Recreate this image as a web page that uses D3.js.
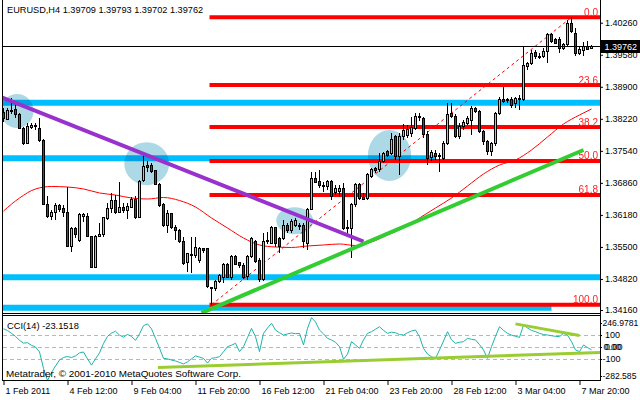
<!DOCTYPE html>
<html><head><meta charset="utf-8">
<script src="https://cdn.jsdelivr.net/npm/d3@7"></script>
<style>
html,body{margin:0;padding:0;background:#fff;}
svg{display:block;font-family:"Liberation Sans",Arial,sans-serif;}
</style></head><body>
<svg id="c" width="640" height="400"></svg>
<script>
// ---------------- DATA ----------------
const chartTitle = "EURUSD,H4  1.39709 1.39793 1.39702 1.39762";
const cciTitle = "CCI(14) -23.1518";
const copyright = "Metatrader, \u00A9 2001-2010 MetaQuotes Software Corp.";

const open = [
1.38364,1.38209,1.38392,1.38407,1.38301,1.38018,1.37700,1.38039,1.38088,1.38018,
1.37755,1.36411,1.36142,1.36241,1.36369,1.36305,1.36235,1.35505,1.35887,1.35632,
1.36142,1.36142,1.35711,1.35059,1.35717,1.35768,1.36108,1.36320,1.36475,1.36235,
1.36341,1.36269,1.36341,1.36496,1.36120,1.36906,1.37233,1.37233,1.37118,1.36829,
1.36390,1.35965,1.36199,1.35916,1.35859,1.35611,1.35165,1.35343,1.35314,1.35222,
1.35471,1.35471,1.34634,1.34621,1.34762,1.34855,1.35137,1.34855,1.35292,1.35165,
1.35116,1.34868,1.35292,1.35611,1.35222,1.34798,1.35632,1.35577,1.35916,1.35683,
1.35683,1.35965,1.35859,1.35965,1.35944,1.35965,1.35577,1.36299,1.36957,1.36884,
1.36814,1.36778,1.36899,1.36651,1.36672,1.36744,1.35916,1.35895,1.36390,1.36829,
1.36553,1.36532,1.37005,1.37169,1.37133,1.37309,1.37521,1.37487,1.37834,1.37409,
1.37834,1.37855,1.37918,1.38018,1.38264,1.38231,1.37876,1.37388,1.37487,1.37451,
1.37381,1.37700,1.38322,1.38264,1.37840,1.38067,1.38124,1.38194,1.38428,1.38371,
1.37946,1.37734,1.37521,1.37685,1.38322,1.38619,1.38634,1.38634,1.38549,1.38655,
1.38619,1.39326,1.39398,1.39623,1.39553,1.39538,1.39644,1.39999,1.39893,1.39908,
1.39717,1.39787,1.40247,1.40035,1.39596,1.39666,1.39751,1.39709];
const high = [
1.38449,1.38443,1.38655,1.38549,1.38337,1.38052,1.38124,1.38124,1.38124,1.38231,
1.37785,1.36581,1.36284,1.36426,1.36411,1.36390,1.36778,1.35929,1.35929,1.36214,
1.36226,1.36214,1.35717,1.35753,1.36001,1.36142,1.36426,1.36638,1.36602,1.36884,
1.36426,1.36426,1.36566,1.36581,1.36921,1.37430,1.37330,1.37275,1.37133,1.36850,
1.36426,1.36284,1.36214,1.35965,1.35874,1.35717,1.35364,1.35717,1.35717,1.35505,
1.35483,1.35483,1.34655,1.34798,1.34925,1.35152,1.35159,1.35328,1.35328,1.35186,
1.35159,1.35328,1.35711,1.35647,1.35265,1.35795,1.35823,1.35944,1.35929,1.35717,
1.36071,1.36001,1.36086,1.36108,1.36001,1.36001,1.36320,1.37097,1.37097,1.37133,
1.36884,1.36921,1.36921,1.36814,1.36814,1.36850,1.36071,1.36426,1.36850,1.36850,
1.36638,1.37063,1.37169,1.37203,1.37487,1.37521,1.37558,1.37918,1.37876,1.37918,
1.38109,1.38088,1.38258,1.38343,1.38343,1.38258,1.37961,1.37558,1.37558,1.37494,
1.37749,1.38555,1.38555,1.38322,1.38131,1.38194,1.38279,1.38492,1.38470,1.38407,
1.37982,1.37770,1.37727,1.38364,1.38683,1.38889,1.38661,1.38689,1.38689,1.38725,
1.39751,1.39432,1.39681,1.39681,1.39623,1.39717,1.40035,1.40048,1.39929,1.39950,
1.39823,1.40317,1.40375,1.40141,1.39751,1.39857,1.39878,1.39793];
const low = [
1.38152,1.38194,1.38322,1.38231,1.37997,1.37664,1.37685,1.37997,1.37982,1.37734,
1.36390,1.36108,1.36071,1.36071,1.36248,1.36142,1.35492,1.35398,1.35683,1.35611,
1.36035,1.35704,1.35052,1.35052,1.35704,1.35717,1.36071,1.36214,1.36199,1.36214,
1.36226,1.36086,1.36320,1.36086,1.36108,1.36884,1.37097,1.37063,1.36814,1.36354,
1.35929,1.35789,1.35874,1.35647,1.35577,1.35116,1.34974,1.34953,1.35258,1.35152,
1.35377,1.34621,1.34273,1.34570,1.34728,1.34728,1.34840,1.34798,1.35116,1.35052,
1.34819,1.34798,1.35265,1.35159,1.34762,1.34783,1.35562,1.35562,1.35505,1.35364,
1.35647,1.35789,1.35789,1.35929,1.35859,1.35471,1.35435,1.36284,1.36850,1.36744,
1.36672,1.36708,1.36496,1.36602,1.36566,1.35859,1.35717,1.35265,1.36354,1.36496,
1.36496,1.36496,1.36957,1.37063,1.37097,1.37275,1.37409,1.37451,1.37345,1.37027,
1.37770,1.37812,1.37834,1.37982,1.38173,1.37812,1.37239,1.37324,1.37345,1.37097,
1.37345,1.37664,1.38237,1.37812,1.37791,1.37982,1.38088,1.37876,1.38343,1.37918,
1.37664,1.37451,1.37430,1.37642,1.38301,1.38555,1.38555,1.38443,1.38443,1.38407,
1.38598,1.39256,1.39362,1.39483,1.39483,1.39504,1.39398,1.39823,1.39802,1.39610,
1.39681,1.39751,1.40035,1.39553,1.39574,1.39553,1.39681,1.39702];
const close = [
1.38216,1.38392,1.38386,1.38301,1.38018,1.37700,1.38052,1.38088,1.38052,1.37755,
1.36411,1.36142,1.36235,1.36375,1.36284,1.36235,1.35505,1.35887,1.35774,1.36192,
1.36192,1.35717,1.35059,1.35717,1.35774,1.36114,1.36326,1.36475,1.36226,1.36333,
1.36269,1.36354,1.36496,1.36120,1.36884,1.37203,1.37190,1.37097,1.36829,1.36369,
1.35965,1.36199,1.35916,1.35859,1.35611,1.35152,1.35350,1.35314,1.35483,1.35456,
1.35420,1.34655,1.34607,1.34762,1.34883,1.35137,1.34855,1.35292,1.35137,1.35116,
1.34855,1.35307,1.35683,1.35186,1.34798,1.35611,1.35611,1.35916,1.35562,1.35505,
1.35965,1.35859,1.36050,1.36071,1.35965,1.35611,1.36299,1.36957,1.36872,1.36814,
1.36778,1.36899,1.36566,1.36744,1.36744,1.35895,1.35887,1.36390,1.36829,1.36532,
1.36517,1.37027,1.37148,1.37118,1.37309,1.37487,1.37451,1.37770,1.37409,1.37834,
1.37982,1.38003,1.38025,1.38264,1.38237,1.37876,1.37381,1.37494,1.37415,1.37409,
1.37700,1.38301,1.38279,1.37840,1.38067,1.38137,1.38231,1.38428,1.38371,1.37946,
1.37734,1.37521,1.37685,1.38322,1.38634,1.38583,1.38604,1.38492,1.38655,1.38619,
1.39362,1.39398,1.39610,1.39538,1.39526,1.39644,1.39999,1.39857,1.39823,1.39717,
1.39787,1.40247,1.40069,1.39596,1.39695,1.39751,1.39691,1.39762];

// moving average (thin red line), read at sampled bars
const maBars = [0,4,8,12,16,20,24,28,32,36,40,44,48,52,56,60,64,68,72,76,80,84,88,92,96,100,104,108,112,116,120,124,128,132,136,140,144,147];
const maValues = [1.36262,1.36538,1.36730,1.36783,1.36772,1.36730,1.36645,1.36602,1.36538,1.36517,1.36549,1.36485,1.36347,1.36114,1.35902,1.35689,1.35541,1.35498,1.35488,1.35520,1.35541,1.35562,1.35530,1.35605,1.35753,1.35902,1.36114,1.36326,1.36538,1.36793,1.37048,1.37239,1.37345,1.37558,1.37834,1.38109,1.38301,1.38428];

// CCI(14) per bar
const cciValues = [
153,139,115,90,56,33,36,14,0,-42,
-180,-282.585,-215,-160,-110,-88,-80,-89,-75,-50,
-42,-100,-153,-100,-50,30,90,117,133,100,
83,106,89,56,110,180,195,153,73,-10,
-96,-100,-110,-118,-130,-143,-125,-100,-75,-85,
-97,-135,-96,-90,-82,-40,3,15,31,-39,
3,80,157,87,-39,115,160,200,143,120,
101,110,118,112,115,17,157,246.9781,211,143,
110,73,59,40,3,-104,-60,45,17,-11,
60,115,129,150,171,140,115,125,120,105,
101,120,135,143,87,-11,-60,-82,-96,-25,
50,129,60,31,40,45,73,65,59,20,
-25,-96,3,90,171,140,115,100,90,81,
185,160,140,129,115,105,101,95,90,87,
115,100,45,-25,-39,17,-5,-23.1518];

const priceTicks = [1.40260,1.39580,1.38900,1.38220,1.37540,1.36860,1.36180,1.35500,1.34820,1.34160];
const cciTickValues = [246.9781,100,0,-100,-282.585];
const cciTickLabels = ["246.9781","100","0.00","-100","-282.585"];
const cciLevels = [100,0,-100];
const timeBars = [0,16,32,48,64,80,96,112,128,144];
const timeLabels = ["1 Feb 2011","4 Feb 12:00","9 Feb 04:00","11 Feb 20:00","16 Feb 12:00","21 Feb 04:00","23 Feb 20:00","28 Feb 12:00","3 Mar 04:00","7 Mar 20:00"];

// Fibonacci retracement
const fibLevels = [0,23.6,38.2,50,61.8,100];
const fibLowBar = 52, fibHighBar = 142;
const fibLow = 1.34273, fibHigh = 1.40375;

// horizontal support/resistance lines
const hLinePrices = [1.38562,1.37381,1.34855,1.34210];
const hLineEndBars = [null,108,null,137];

// ellipses (center bar, center price, half width in bars, half height in price)
const ellBars = [3.4,35.8,96.5,72.8];
const ellPrices = [1.38386,1.37267,1.37441,1.36057];
const ellHalfBars = [4.1,5.6,5.4,4.6];
const ellHalfPrices = [0.0036,0.00456,0.00541,0.00287];

// trend lines
const purpleBars = [-0.5,90], purplePrices = [1.38678,1.35615];
const greenBars = [49.5,145], greenPrices = [1.34097,1.37558];
const cciUpBars = [38.6,149.5], cciUpValues = [-173,-46];
const cciDownBars = [128,144], cciDownValues = [195,97];

// ---------------- DRAW ----------------
const svg = d3.select("#c");
const n = close.length;
const x = d3.scaleLinear().domain([0, n-1]).range([3.5, 3.5 + 4*(n-1)]);
const y = d3.scaleLinear().domain([1.34097, 1.40742]).range([313, 0]);
const yc = d3.scaleLinear().domain([-282.585, 246.9781]).range([380.5, 317.7]);
const R = 600; // right edge of plot area

const defs = svg.append("defs");
defs.append("clipPath").attr("id","cm").append("rect").attr("x",3).attr("y",0).attr("width",R-3).attr("height",313);
defs.append("clipPath").attr("id","cc").append("rect").attr("x",3).attr("y",316).attr("width",R-3).attr("height",64.5);

const main = svg.append("g").attr("clip-path","url(#cm)");

// blue horizontal lines
main.selectAll(".hl").data(hLinePrices).join("line")
  .attr("x1",3).attr("x2",(d,i)=> hLineEndBars[i]==null ? R : x(hLineEndBars[i]))
  .attr("y1",d=>y(d)).attr("y2",d=>y(d))
  .attr("stroke","#00BFFF").attr("stroke-width",6);

// ellipses
main.selectAll(".el").data(ellBars).join("ellipse")
  .attr("cx",d=>x(d)).attr("cy",(d,i)=>y(ellPrices[i]))
  .attr("rx",(d,i)=>x(d+ellHalfBars[i])-x(d))
  .attr("ry",(d,i)=>y(ellPrices[i]-ellHalfPrices[i])-y(ellPrices[i]))
  .attr("fill","#ADD8E6").style("mix-blend-mode","multiply");

// fib lines
const fibPrice = l => fibHigh - l/100*(fibHigh-fibLow);
main.selectAll(".fl").data(fibLevels).join("line")
  .attr("x1",x(fibLowBar)-2).attr("x2",R)
  .attr("y1",d=>y(fibPrice(d))).attr("y2",d=>y(fibPrice(d)))
  .attr("stroke","#FF0000").attr("stroke-width",4);
main.selectAll(".ft").data(fibLevels).join("text")
  .attr("x",598).attr("y",d=>y(fibPrice(d))-1.5)
  .attr("text-anchor","end").attr("font-size",10).attr("fill","#FF2020")
  .text(d=>d.toFixed(1));

// fib dashed trend
main.append("line")
  .attr("x1",x(fibLowBar)).attr("y1",y(fibLow)).attr("x2",x(fibHighBar)).attr("y2",y(fibHigh))
  .attr("stroke","#FF0000").attr("stroke-width",1).attr("stroke-dasharray","3,3");

// moving average
main.append("path")
  .datum(maBars.map((b,i)=>[b,maValues[i]]))
  .attr("d", d3.line().x(d=>x(d[0])).y(d=>y(d[1])).curve(d3.curveMonotoneX))
  .attr("fill","none").attr("stroke","#FF0000").attr("stroke-width",1);

// candles
const idx = d3.range(n);
main.selectAll(".wk").data(idx).join("line")
  .attr("x1",i=>x(i)).attr("x2",i=>x(i))
  .attr("y1",i=>y(high[i])).attr("y2",i=>y(low[i]))
  .attr("stroke","#000").attr("stroke-width",1).attr("shape-rendering","crispEdges");
main.selectAll(".bd").data(idx).join("rect")
  .attr("x",i=>x(i)-1).attr("width",2)
  .attr("y",i=>Math.min(y(open[i]),y(close[i])))
  .attr("height",i=>Math.max(1,Math.abs(y(open[i])-y(close[i]))))
  .attr("fill",i=> close[i]>=open[i] ? "#A8E030" : "#FF0000")
  .attr("stroke","#000").attr("stroke-width",1).attr("shape-rendering","crispEdges");

// trend lines
main.append("line")
  .attr("x1",x(purpleBars[0])).attr("y1",y(purplePrices[0]))
  .attr("x2",x(purpleBars[1])).attr("y2",y(purplePrices[1]))
  .attr("stroke","#9932CC").attr("stroke-width",4);
main.append("line")
  .attr("x1",x(greenBars[0])).attr("y1",y(greenPrices[0]))
  .attr("x2",x(greenBars[1])).attr("y2",y(greenPrices[1]))
  .attr("stroke","#32CD32").attr("stroke-width",4);

// current price line
const lastY = Math.round(y(close[n-1]))+0.5;
main.append("line").attr("x1",3).attr("x2",R).attr("y1",lastY).attr("y2",lastY)
  .attr("stroke","#000").attr("stroke-width",1);

// title
svg.append("text").attr("x",7).attr("y",13).attr("font-size",9.2).attr("fill","#000").text(chartTitle);

// price axis
const pa = svg.append("g").attr("transform",`translate(${R},0)`)
  .call(d3.axisRight(y).tickValues(priceTicks).tickFormat(d3.format(".5f")).tickSize(3).tickPadding(2));
pa.select(".domain").remove();
pa.selectAll("text").attr("font-family","Liberation Sans, Arial, sans-serif").attr("font-size",9).attr("fill","#000");
pa.selectAll("line").attr("stroke","#000");

// current price box
svg.append("rect").attr("x",601).attr("y",lastY-6.5).attr("width",39).attr("height",13).attr("fill","#000");
svg.append("text").attr("x",604.5).attr("y",lastY).attr("dy","0.35em").attr("font-size",9)
  .attr("fill","#fff").text(close[n-1].toFixed(5));

// ---------- CCI panel ----------
const cp = svg.append("g").attr("clip-path","url(#cc)");
cp.selectAll(".lv").data(cciLevels).join("line")
  .attr("x1",3).attr("x2",R).attr("y1",d=>Math.round(yc(d))+0.5).attr("y2",d=>Math.round(yc(d))+0.5)
  .attr("stroke","#B8B8B8").attr("stroke-dasharray","4,3");
cp.append("path").datum(cciValues)
  .attr("d", d3.line().x((d,i)=>x(i)).y(d=>yc(d)))
  .attr("fill","none").attr("stroke","#20B2AA").attr("stroke-width",1);
cp.append("line")
  .attr("x1",x(cciUpBars[0])).attr("y1",yc(cciUpValues[0])).attr("x2",x(cciUpBars[1])).attr("y2",yc(cciUpValues[1]))
  .attr("stroke","#9ACD32").attr("stroke-width",3);
cp.append("line")
  .attr("x1",x(cciDownBars[0])).attr("y1",yc(cciDownValues[0])).attr("x2",x(cciDownBars[1])).attr("y2",yc(cciDownValues[1]))
  .attr("stroke","#9ACD32").attr("stroke-width",3);

svg.append("text").attr("x",7).attr("y",329).attr("font-size",9.3).attr("fill","#000").text(cciTitle);
svg.append("text").attr("x",6).attr("y",376.5).attr("font-size",9.9).attr("fill","#000").text(copyright);

// CCI axis labels
const cciLabelY = v => Math.max(323, Math.min(376, yc(v)));
const ca = svg.append("g");
ca.selectAll("line").data(cciTickValues).join("line")
  .attr("x1",R).attr("x2",R+2).attr("y1",d=>Math.round(cciLabelY(d))+0.5).attr("y2",d=>Math.round(cciLabelY(d))+0.5)
  .attr("stroke","#000");
ca.selectAll("text").data(cciTickValues).join("text")
  .attr("x",(d,i)=> (d<0 || cciTickLabels[i].length>6) ? 602.5 : 605).attr("y",d=>cciLabelY(d)).attr("dy","0.35em")
  .attr("font-size",(d,i)=> cciTickLabels[i].length>6 ? 8.6 : 9).attr("fill","#000").text((d,i)=>cciTickLabels[i]);
ca.append("text").attr("x",603.5).attr("y",cciLabelY(0)).attr("dy","0.35em")
  .attr("font-size",9).attr("fill","#000").text(cciTickLabels[2]);

// time axis
const ta = svg.append("g").attr("transform","translate(0,381)")
  .call(d3.axisBottom(x).tickValues(timeBars).tickFormat((d,i)=>timeLabels[i]).tickSizeInner(4).tickSizeOuter(0).tickPadding(3));
ta.select(".domain").remove();
ta.selectAll("line").attr("stroke","#000");
ta.selectAll("text").attr("text-anchor","start").attr("dx",1.5).attr("font-family","Liberation Sans, Arial, sans-serif").attr("font-size",9).attr("fill","#000");

// frames
const fr = svg.append("g").attr("fill","none").attr("stroke","#000").attr("stroke-width",1).attr("shape-rendering","crispEdges");
fr.append("line").attr("x1",2.5).attr("x2",2.5).attr("y1",0).attr("y2",381);
fr.append("line").attr("x1",R+0.5).attr("x2",R+0.5).attr("y1",0).attr("y2",381);
fr.append("line").attr("x1",2.5).attr("x2",R+0.5).attr("y1",313.5).attr("y2",313.5);
fr.append("line").attr("x1",2.5).attr("x2",R+0.5).attr("y1",315.5).attr("y2",315.5);
fr.append("line").attr("x1",2.5).attr("x2",R+0.5).attr("y1",380.5).attr("y2",380.5);
</script>
</body></html>
